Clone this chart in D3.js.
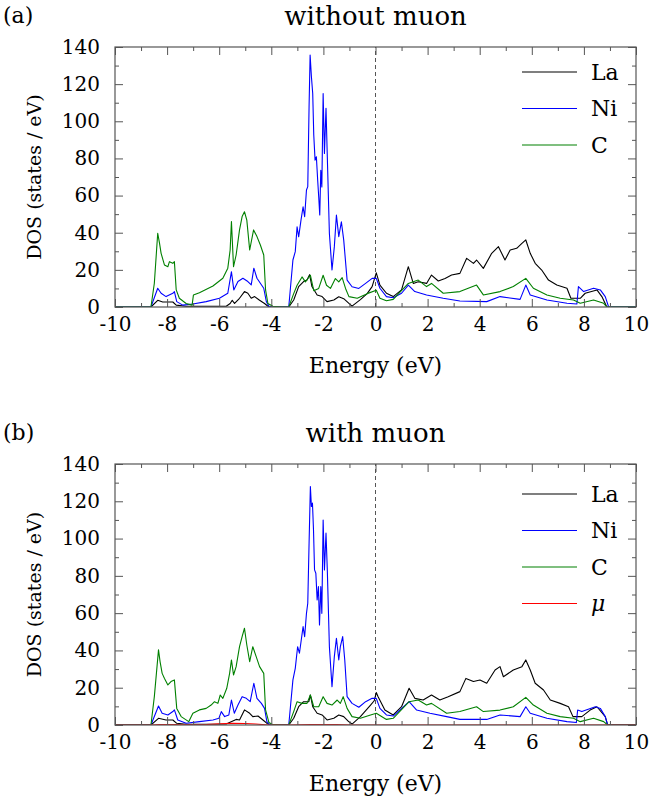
<!DOCTYPE html>
<html>
<head>
<meta charset="utf-8">
<script src="https://cdn.jsdelivr.net/npm/d3@7"></script>
<style>
  body { margin: 0; background: #fff; }
</style>
</head>
<body>
<svg id="chart" width="649" height="802"></svg>
<script>
// Tick values
const energyMajor = d3.range(-10, 11, 2);
const energyMinor = d3.range(-9, 10, 2);
const dosMajor    = d3.range(0, 141, 20);
const dosMinor    = d3.range(10, 140, 20);

// Panel (a): without muon, [energy (eV), DOS (states / eV)]
const laA = [[-10,0],[-8.62,0],[-8.36,3.6],[-8.17,2.7],[-7.78,2.7],[-7.65,1.0],[-7.27,0.4],[-5.73,0.4],[-5.58,1.9],[-5.5,3.6],[-5.41,1.9],[-5.22,4.7],[-5.03,8.3],[-4.9,7.4],[-4.77,4.7],[-4.64,5.6],[-4.45,3.6],[-4.26,1.9],[-4.13,0.4],[-4.0,0],[-3.33,0],[-3.14,3.8],[-2.95,11.0],[-2.76,13.7],[-2.63,14.6],[-2.53,17.4],[-2.44,11.0],[-2.24,6.5],[-2.05,5.6],[-1.86,2.9],[-1.6,3.8],[-1.41,5.5],[-1.22,4.5],[-1.02,2.0],[-0.9,0.5],[-0.58,4.0],[-0.32,7.2],[-0.13,11.0],[0.03,18.4],[0.17,11.8],[0.42,7.4],[0.68,5.6],[1.0,9.2],[1.26,21.7],[1.45,12.7],[1.64,13.6],[1.96,12.7],[2.15,17.2],[2.41,14.0],[2.67,15.4],[2.92,17.2],[3.24,18.1],[3.5,26.2],[3.76,23.5],[3.88,25.3],[4.14,20.8],[4.46,28.9],[4.72,32.5],[4.97,25.3],[5.17,30.7],[5.42,31.6],[5.62,34.3],[5.77,36.1],[5.94,28.9],[6.13,23.5],[6.38,19.9],[6.64,14.5],[6.96,11.8],[7.35,10.1],[7.5,4.7],[7.86,4.7],[8.05,7.4],[8.5,9.2],[8.69,5.6],[8.88,0],[10,0]];
const niA = [[-10,0],[-8.62,0],[-8.36,10.1],[-8.23,7.4],[-8.04,5.6],[-7.78,7.4],[-7.72,8.3],[-7.63,2.9],[-7.4,1.0],[-7.01,1.6],[-6.5,2.9],[-5.99,4.7],[-5.67,7.4],[-5.53,19.0],[-5.44,9.2],[-5.28,13.7],[-5.09,15.5],[-4.9,13.7],[-4.77,11.9],[-4.67,20.9],[-4.55,15.5],[-4.42,12.8],[-4.29,10.1],[-4.19,2.9],[-4.09,0.4],[-4.0,0],[-3.33,0],[-3.17,25.3],[-3.08,29.8],[-3.01,43.2],[-2.95,37.8],[-2.86,46.8],[-2.78,54.0],[-2.72,48.6],[-2.65,63.0],[-2.6,64.8],[-2.55,107.9],[-2.51,135.7],[-2.46,124.0],[-2.41,115.0],[-2.37,92.6],[-2.32,79.1],[-2.27,80.9],[-2.22,68.4],[-2.18,59.4],[-2.14,49.5],[-2.1,73.6],[-2.06,64.6],[-2.01,115.0],[-1.96,82.7],[-1.9,107.0],[-1.85,80.9],[-1.77,39.6],[-1.67,19.9],[-1.58,32.5],[-1.5,49.5],[-1.41,37.9],[-1.31,45.9],[-1.22,36.0],[-1.09,14.5],[-0.9,10.9],[-0.64,10.0],[-0.38,12.7],[-0.13,15.4],[0.03,15.4],[0.17,10.1],[0.42,5.6],[0.68,5.0],[1.0,7.4],[1.26,11.8],[1.51,8.3],[1.96,6.5],[2.6,4.7],[3.24,3.2],[4.27,2.9],[4.78,5.6],[5.55,4.1],[5.77,11.8],[5.94,6.5],[6.58,3.8],[7.35,2.0],[7.73,1.6],[7.79,11.0],[7.99,8.3],[8.37,10.1],[8.63,9.2],[8.82,5.6],[8.95,0],[10,0]];
const cA  = [[-10,0],[-8.62,0],[-8.49,12.8],[-8.36,39.7],[-8.29,34.3],[-8.23,28.9],[-8.1,22.6],[-7.97,21.7],[-7.91,24.4],[-7.78,23.5],[-7.72,24.4],[-7.65,9.2],[-7.53,4.7],[-7.27,1.9],[-7.04,1.0],[-6.99,6.4],[-6.76,7.7],[-6.24,11.3],[-5.86,15.5],[-5.67,20.9],[-5.58,30.7],[-5.53,46.0],[-5.45,21.7],[-5.35,28.0],[-5.22,41.5],[-5.12,48.7],[-5.03,51.3],[-4.94,46.8],[-4.83,30.7],[-4.68,41.5],[-4.55,37.9],[-4.42,33.4],[-4.29,28.0],[-4.22,9.2],[-4.13,1.9],[-3.94,0.4],[-3.6,0],[-3.33,0],[-3.14,7.2],[-3.01,11.7],[-2.82,16.2],[-2.69,13.5],[-2.5,17.1],[-2.37,8.8],[-2.18,10.0],[-2.01,17.1],[-1.88,11.7],[-1.73,10.0],[-1.54,15.3],[-1.41,13.5],[-1.28,15.8],[-1.15,10.0],[-1.02,5.6],[-0.7,4.7],[-0.32,7.2],[0.03,9.0],[0.17,4.7],[0.42,3.4],[0.68,4.1],[1.26,12.7],[1.64,14.5],[1.96,11.0],[2.15,12.7],[2.6,7.4],[3.24,8.3],[3.88,11.8],[4.14,6.5],[4.78,8.3],[5.29,11.0],[5.77,15.4],[6.06,10.1],[6.58,6.5],[7.09,4.7],[7.6,3.8],[7.86,2.0],[8.37,3.8],[8.76,2.0],[8.88,0],[10,0]];

// Panel (b): with muon
const laB = [[-10,0],[-8.62,0],[-8.33,3.6],[-8.04,2.7],[-7.78,2.7],[-7.63,0.9],[-7.27,0.4],[-5.73,0.5],[-5.54,1.8],[-5.35,3.0],[-5.22,2.7],[-5.03,8.1],[-4.83,6.3],[-4.71,4.5],[-4.51,4.8],[-4.32,2.7],[-4.13,0.5],[-4.0,0],[-3.33,0],[-3.14,3.6],[-2.95,9.8],[-2.76,12.5],[-2.56,12.5],[-2.5,16.1],[-2.41,9.8],[-2.24,6.3],[-2.05,5.4],[-1.86,2.7],[-1.6,3.6],[-1.41,5.4],[-1.22,4.5],[-1.03,1.8],[-0.9,0.5],[-0.58,4.5],[-0.19,10.7],[-0.05,13.0],[0.03,17.4],[0.1,15.2],[0.36,8.0],[0.68,5.4],[1.0,9.8],[1.29,19.7],[1.51,14.3],[1.83,13.4],[2.15,16.1],[2.47,13.4],[2.79,15.2],[3.24,17.9],[3.47,25.0],[3.76,23.3],[4.01,24.1],[4.27,22.4],[4.59,29.5],[4.78,31.3],[4.91,25.9],[5.29,29.5],[5.62,31.3],[5.77,34.9],[5.94,29.5],[6.13,22.4],[6.45,18.8],[6.71,13.4],[7.09,11.6],[7.41,9.8],[7.58,4.5],[7.92,4.5],[8.24,8.0],[8.5,9.8],[8.82,4.5],[8.91,0],[10,0]];
const niB = [[-10,0],[-8.62,0],[-8.33,10.2],[-8.19,6.3],[-7.97,5.4],[-7.78,7.2],[-7.72,8.1],[-7.59,2.7],[-7.27,0.9],[-6.76,1.8],[-6.24,2.7],[-6.01,3.6],[-5.92,7.2],[-5.79,4.5],[-5.63,5.4],[-5.53,13.4],[-5.42,6.3],[-5.28,10.7],[-5.12,15.2],[-4.96,14.3],[-4.81,12.5],[-4.67,22.4],[-4.55,14.3],[-4.38,11.6],[-4.26,8.9],[-4.17,1.8],[-4.06,0.2],[-4.0,0],[-3.33,0],[-3.17,24.2],[-3.08,30.4],[-2.99,42.0],[-2.92,38.5],[-2.85,45.6],[-2.78,52.8],[-2.72,47.4],[-2.65,59.9],[-2.6,65.3],[-2.55,97.5],[-2.5,127.9],[-2.46,117.2],[-2.42,119.0],[-2.38,104.7],[-2.34,83.2],[-2.29,81.4],[-2.24,67.1],[-2.19,74.2],[-2.15,53.7],[-2.1,74.2],[-2.06,59.9],[-2.01,110.0],[-1.96,83.2],[-1.9,102.9],[-1.85,83.2],[-1.77,42.0],[-1.67,20.6],[-1.58,36.7],[-1.5,46.5],[-1.41,34.9],[-1.35,42.0],[-1.26,47.4],[-1.18,34.9],[-1.09,15.2],[-0.9,11.6],[-0.64,9.5],[-0.38,12.5],[-0.13,14.3],[0.03,14.3],[0.17,8.9],[0.42,5.4],[0.68,4.8],[1.29,12.5],[1.58,8.0],[2.09,6.3],[2.73,4.5],[3.24,3.0],[4.27,3.0],[4.78,5.4],[5.55,4.5],[5.77,9.8],[5.94,6.3],[6.58,3.6],[7.35,1.8],[7.71,1.3],[7.76,8.0],[7.92,7.2],[8.44,9.8],[8.63,8.9],[8.82,4.5],[8.91,0],[10,0]];
const cB  = [[-10,0],[-8.62,0],[-8.49,15.2],[-8.33,40.3],[-8.27,34.0],[-8.19,27.7],[-8.1,25.0],[-7.97,21.5],[-7.85,23.3],[-7.72,24.2],[-7.63,8.9],[-7.46,4.5],[-7.17,1.8],[-7.01,6.3],[-6.76,8.1],[-6.5,8.9],[-6.31,10.7],[-6.18,12.5],[-6.05,11.6],[-5.96,16.1],[-5.86,14.3],[-5.71,19.7],[-5.6,27.7],[-5.53,34.9],[-5.45,26.8],[-5.35,31.3],[-5.22,42.0],[-5.12,47.4],[-5.03,51.9],[-4.94,42.9],[-4.83,34.0],[-4.71,42.0],[-4.58,36.7],[-4.45,31.3],[-4.29,27.7],[-4.22,8.1],[-4.09,1.3],[-3.94,0.2],[-3.6,0],[-3.33,0],[-3.14,7.2],[-3.01,12.5],[-2.82,11.6],[-2.63,11.6],[-2.5,16.1],[-2.37,9.8],[-2.18,9.8],[-2.01,15.2],[-1.86,11.6],[-1.67,10.7],[-1.47,13.4],[-1.35,11.6],[-1.24,15.2],[-1.09,8.9],[-0.9,4.5],[-0.58,3.6],[-0.19,5.4],[0.03,6.3],[0.42,3.0],[0.68,3.6],[1.29,12.5],[1.64,13.4],[1.96,10.7],[2.15,11.6],[2.73,6.3],[3.24,7.2],[3.88,9.8],[4.14,7.2],[4.78,8.0],[5.29,9.8],[5.77,14.8],[6.06,10.7],[6.58,6.3],[7.09,4.5],[7.6,3.6],[7.86,1.8],[8.37,3.6],[8.76,1.8],[8.91,0],[10,0]];
const muB = [[-10,0],[-8.6,0],[-8.3,0.3],[-7.7,0.3],[-7.3,0.1],[-6.5,0.3],[-6.0,0.6],[-5.5,0.9],[-5.0,0.8],[-4.6,0.5],[-4.1,0],[-3.3,0],[-2.5,0.3],[-1.5,0.3],[-0.9,0],[10,0]];

const COLOURS = { "La": "#000000", "Ni": "#0000ff", "C": "#008000", "μ": "#ff0000" };
const FRAME   = "#555555";
const FONT    = "'DejaVu Serif', 'Liberation Serif', serif";

const PLOT_LEFT  = 115;
const PLOT_RIGHT = 636;

const panels = [
    { tag: "(a)", title: "without muon", top: 47, bottom: 307, legendTop: 72,
      series: [["La", laA], ["Ni", niA], ["C", cA]] },
    { tag: "(b)", title: "with muon", top: 464, bottom: 725, legendTop: 494,
      series: [["La", laB], ["Ni", niB], ["C", cB], ["μ", muB]] }
];

const svg = d3.select("#chart")
    .style("font-family", FONT);

svg.append("rect")
    .attr("width", 649)
    .attr("height", 802)
    .attr("fill", "#fff");

panels.forEach(function (panel, i) {
    let x = d3.scaleLinear().domain([-10, 10]).range([PLOT_LEFT, PLOT_RIGHT]);
    let y = d3.scaleLinear().domain([0, 140]).range([panel.bottom, panel.top]);

    let g = svg.append("g").attr("class", "panel");

    // Clip the curves to the plot area
    let clipId = "clip-" + i;
    g.append("clipPath")
        .attr("id", clipId)
        .append("rect")
        .attr("x", PLOT_LEFT)
        .attr("y", panel.top)
        .attr("width", PLOT_RIGHT - PLOT_LEFT)
        .attr("height", panel.bottom - panel.top);

    // Fermi level
    g.append("line")
        .attr("x1", x(0)).attr("x2", x(0))
        .attr("y1", y(0)).attr("y2", y(140))
        .attr("stroke", "#555")
        .attr("stroke-width", 1)
        .attr("stroke-dasharray", "4,3");

    let line = d3.line()
        .x((d) => x(d[0]))
        .y((d) => y(d[1]));

    g.append("g")
        .attr("clip-path", "url(#" + clipId + ")")
        .selectAll("path")
        .data(panel.series)
        .enter()
        .append("path")
        .attr("d", (d) => line(d[1]))
        .attr("fill", "none")
        .attr("stroke", (d) => COLOURS[d[0]])
        .attr("stroke-width", 1.1)
        .attr("stroke-linejoin", "round");

    // Axes: major ticks with labels, minor ticks without, all pointing inwards
    let addAxis = function (axis, transform, labels) {
        let a = g.append("g")
            .attr("transform", transform)
            .call(axis)
            .attr("font-family", FONT)
            .attr("font-size", 20);
        a.select(".domain").remove();
        a.selectAll(".tick line").attr("stroke", FRAME);
        if (labels) {
            a.selectAll(".tick text").attr("fill", "#000");
        } else {
            a.selectAll(".tick text").remove();
        }
    };

    addAxis(d3.axisBottom(x).tickValues(energyMajor).tickSizeInner(-8).tickPadding(10)
        .tickFormat((d) => String(d)), "translate(0," + panel.bottom + ")", true);
    addAxis(d3.axisBottom(x).tickValues(energyMinor).tickSizeInner(-4),
        "translate(0," + panel.bottom + ")", false);
    addAxis(d3.axisTop(x).tickValues(energyMajor).tickSizeInner(-8),
        "translate(0," + panel.top + ")", false);
    addAxis(d3.axisTop(x).tickValues(energyMinor).tickSizeInner(-4),
        "translate(0," + panel.top + ")", false);
    addAxis(d3.axisLeft(y).tickValues(dosMajor).tickSizeInner(-8).tickPadding(15)
        .tickFormat((d) => String(d)), "translate(" + PLOT_LEFT + ",0)", true);
    addAxis(d3.axisLeft(y).tickValues(dosMinor).tickSizeInner(-4),
        "translate(" + PLOT_LEFT + ",0)", false);
    addAxis(d3.axisRight(y).tickValues(dosMajor).tickSizeInner(-8),
        "translate(" + PLOT_RIGHT + ",0)", false);
    addAxis(d3.axisRight(y).tickValues(dosMinor).tickSizeInner(-4),
        "translate(" + PLOT_RIGHT + ",0)", false);

    // Frame
    g.append("rect")
        .attr("x", PLOT_LEFT)
        .attr("y", panel.top)
        .attr("width", PLOT_RIGHT - PLOT_LEFT)
        .attr("height", panel.bottom - panel.top)
        .attr("fill", "none")
        .attr("stroke", FRAME)
        .attr("stroke-width", 1.2);

    // Titles and axis labels
    g.append("text")
        .attr("x", x(0))
        .attr("y", panel.top - 22)
        .attr("text-anchor", "middle")
        .attr("font-size", 26)
        .text(panel.title);

    g.append("text")
        .attr("x", 3)
        .attr("y", panel.top - 24)
        .attr("font-size", 22)
        .text(panel.tag);

    g.append("text")
        .attr("x", x(0))
        .attr("y", panel.bottom + 66)
        .attr("text-anchor", "middle")
        .attr("font-size", 22)
        .text("Energy (eV)");

    g.append("text")
        .attr("transform", "translate(41," + ((panel.top + panel.bottom) / 2) + ") rotate(-90)")
        .attr("text-anchor", "middle")
        .attr("font-size", 19)
        .text("DOS (states / eV)");

    // Legend
    let legend = g.selectAll("g.legend")
        .data(panel.series)
        .enter()
        .append("g")
        .attr("class", "legend")
        .attr("transform", (d, k) => "translate(0," + (panel.legendTop + k * 36.5) + ")");

    legend.append("line")
        .attr("x1", 522).attr("x2", 577)
        .attr("stroke", (d) => COLOURS[d[0]])
        .attr("stroke-width", 1.1);

    legend.append("text")
        .attr("x", 591)
        .attr("dy", "0.35em")
        .attr("font-size", 22)
        .attr("font-style", (d) => d[0] === "μ" ? "italic" : null)
        .text((d) => d[0]);
});
</script>
</body>
</html>
